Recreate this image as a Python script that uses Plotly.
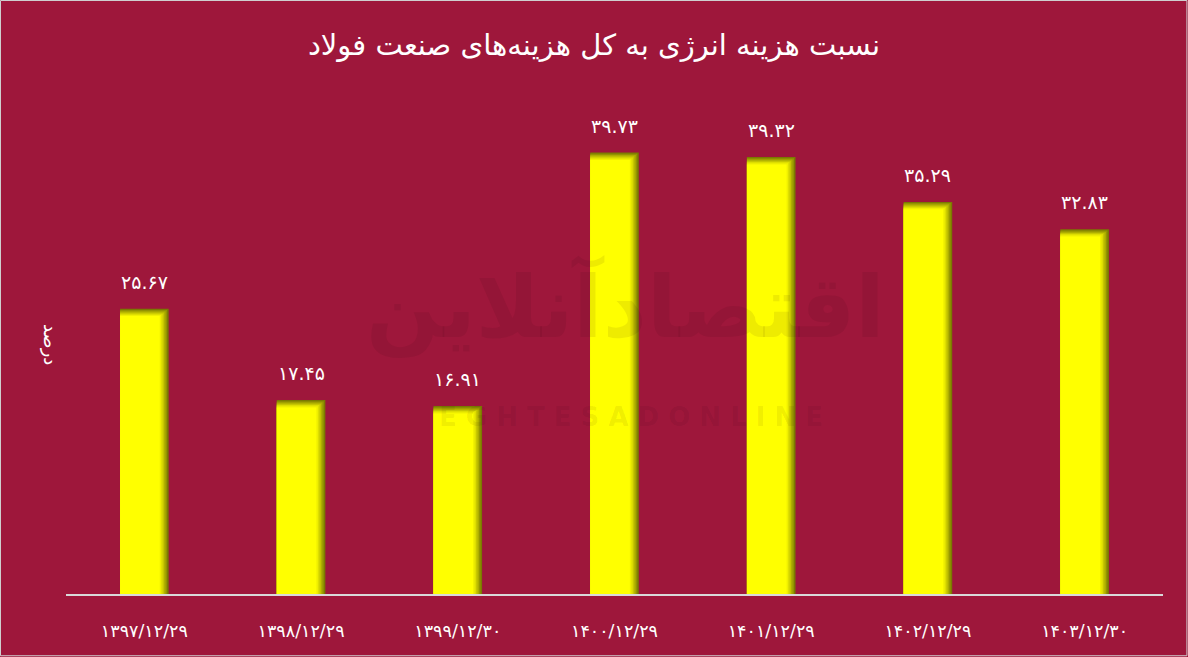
import plotly.graph_objects as go

categories = ["1397/12/29", "1398/12/29", "1399/12/30", "1400/12/29",
              "1401/12/29", "1402/12/29", "1403/12/30"]
values = [25.67, 17.45, 16.91, 39.73, 39.32, 35.29, 32.83]
title_text = "نسبت هزینه انرژی به کل هزینه‌های صنعت فولاد"
y_title = "درصد"
watermark_fa = "اقتصادآنلاین"
watermark_en = "E G H T E S A D O N L I N E"

FA = str.maketrans("0123456789", "۰۱۲۳۴۵۶۷۸۹")


def fa(s):
    return s.translate(FA)


cat_fa = [fa(c) for c in categories]
BG = "#9E173B"
FONT = "DejaVu Sans, Noto Sans, sans-serif"

fig = go.Figure()

# stepped layers to imitate the bar's inner shading (right and top edges)
shades = ["#7a7a00", "#939300", "#adad00", "#c6c600", "#dede00", "#f0f000", "#ffff00"]
W = 0.31
dw = 0.0095
dh = 0.11
for k, col in enumerate(shades):
    fig.add_trace(go.Bar(
        x=cat_fa, y=[v - k * dh for v in values],
        width=W - k * dw, offset=-W / 2,
        marker=dict(color=col, line=dict(width=0)),
        hoverinfo="skip", showlegend=False))

for c, v in zip(cat_fa, values):
    fig.add_annotation(x=c, y=v, text=fa(f"{v:.2f}"), showarrow=False,
                       yshift=27, font=dict(color="white", size=19, family=FONT))

# watermark
fig.add_annotation(xref="paper", yref="paper", x=0.51, y=0.575,
                   text="<b>" + watermark_fa + "</b>", showarrow=False,
                   font=dict(size=86, color="rgba(40,0,15,0.08)", family=FONT))
fig.add_annotation(xref="paper", yref="paper", x=0.515, y=0.355,
                   text="<b>" + watermark_en + "</b>", showarrow=False,
                   font=dict(size=26, color="rgba(40,0,15,0.08)", family=FONT))

fig.add_annotation(xref="paper", yref="paper", x=-0.025, y=0.5,
                   text=y_title, textangle=90, showarrow=False,
                   font=dict(color="white", size=18, family=FONT))

fig.add_shape(type="rect", xref="paper", yref="paper",
              x0=-0.0597, x1=1.0218, y0=-0.1235, y1=1.187,
              line=dict(color="#cfcfcf", width=1), fillcolor="rgba(0,0,0,0)")

fig.update_layout(
    width=1188, height=657,
    margin=dict(l=66, r=25, t=94, b=63),
    paper_bgcolor=BG, plot_bgcolor=BG,
    barmode="overlay",
    title=dict(text=title_text, x=0.5, xanchor="center", y=0.932,
               yanchor="middle", yref="container",
               font=dict(color="white", size=29, family=FONT)),
    xaxis=dict(showline=True, linecolor="#d9d9d9", linewidth=2,
               ticks="outside", ticklen=20, tickcolor=BG,
               tickfont=dict(color="white", size=17.5, family=FONT),
               showgrid=False, zeroline=False, fixedrange=True),
    yaxis=dict(range=[0, 45], showgrid=False, zeroline=False,
               showticklabels=False, ticks=""),
    font=dict(family=FONT),
)

fig.write_html("out.html", config={"displayModeBar": False},
               post_script="document.body.style.margin='0';document.body.style.padding='0';")
